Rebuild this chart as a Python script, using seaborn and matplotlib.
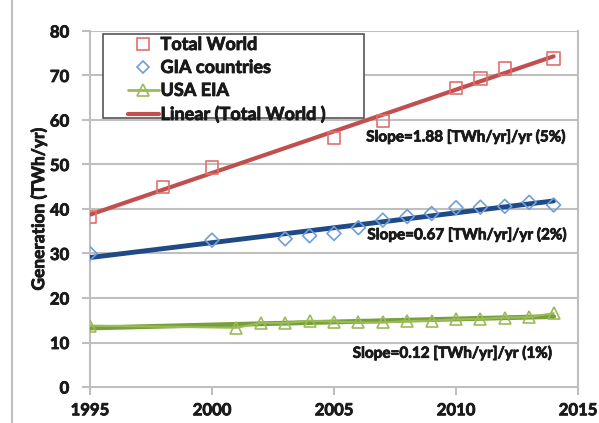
import matplotlib
matplotlib.use("Agg")
import matplotlib.pyplot as plt
import matplotlib.patheffects as pe
from matplotlib.lines import Line2D
from matplotlib.patches import Rectangle
import seaborn as sns
import pandas as pd

# ---- data ----
world_years = [1995, 1998, 2000, 2005, 2007, 2010, 2011, 2012, 2014]
world_vals = [38.2, 45.0, 49.3, 56.0, 59.8, 67.2, 69.3, 71.6, 73.8]

gia_years = [1995, 2000, 2003, 2004, 2005, 2006, 2007, 2008, 2009, 2010, 2011, 2012, 2013, 2014]
gia_vals = [30.0, 33.0, 33.3, 34.0, 34.5, 35.8, 37.5, 38.3, 39.0, 40.3, 40.4, 40.6, 41.5, 40.9]

usa_years = [1995, 2001, 2002, 2003, 2004, 2005, 2006, 2007, 2008, 2009, 2010, 2011, 2012, 2013, 2014]
usa_vals = [13.8, 13.3, 14.4, 14.4, 14.9, 14.7, 14.5, 14.5, 14.8, 14.9, 15.2, 15.3, 15.6, 15.7, 16.6]

series_labels = ["Total World", "GIA countries", "USA EIA", "Linear (Total World )"]
slope_texts = ["Slope=1.88 [TWh/yr]/yr (5%)",
               "Slope=0.67 [TWh/yr]/yr (2%)",
               "Slope=0.12 [TWh/yr]/yr (1%)"]
x_ticks = [1995, 2000, 2005, 2010, 2015]
y_ticks = [0, 10, 20, 30, 40, 50, 60, 70, 80]
y_label = "Generation (TWh/yr)"

world = pd.DataFrame({"year": world_years, "val": world_vals})
gia = pd.DataFrame({"year": gia_years, "val": gia_vals})
usa = pd.DataFrame({"year": usa_years, "val": usa_vals})

# ---- style ----
sns.set_theme(style="white")
plt.rcParams["font.family"] = ["Lato", "DejaVu Sans"]
plt.rcParams["font.weight"] = "bold"

RED_M = "#e0716d"
RED_L = "#c0504d"
BLUE_M = "#6f9edb"
BLUE_L = "#1f4a85"
GREEN_M = "#9bbb59"
GREEN_L = "#77a03a"
GRID = "#bfbfbf"
TXT = "#1a1a1a"
THICK = [pe.withStroke(linewidth=0.6, foreground=TXT)]

fig = plt.figure(figsize=(5.99, 4.23), dpi=100)
ax = fig.add_axes([90 / 599, 1 - 387 / 423, (578 - 90) / 599, (387 - 31) / 423])

# gridlines
for yv in y_ticks[1:]:
    ax.axhline(yv, color=GRID, lw=1.5, zorder=0)

# trend lines
sns.regplot(data=world, x="year", y="val", ax=ax, scatter=False, ci=None,
            line_kws=dict(color=RED_L, lw=3, zorder=3))
sns.regplot(data=gia, x="year", y="val", ax=ax, scatter=False, ci=None,
            line_kws=dict(color=BLUE_L, lw=3.5, zorder=3))
sns.regplot(data=usa, x="year", y="val", ax=ax, scatter=False, ci=None,
            line_kws=dict(color=GREEN_L, lw=3.5, zorder=3))

# USA EIA series line + markers
sns.lineplot(data=usa, x="year", y="val", ax=ax, color=GREEN_M, lw=1.5,
             marker="^", markersize=9, markerfacecolor="none",
             markeredgecolor=GREEN_M, markeredgewidth=1.2, zorder=4)

# markers
sns.scatterplot(data=world, x="year", y="val", ax=ax, marker="s", s=80,
                facecolor="none", edgecolor=RED_M, linewidth=1.2, zorder=5)
sns.scatterplot(data=gia, x="year", y="val", ax=ax, marker="D", s=50,
                facecolor="none", edgecolor=BLUE_M, linewidth=1.2, zorder=5)

# axes
ax.set_xlim(1995, 2015)
ax.set_ylim(0, 80)
ax.set_xticks(x_ticks)
ax.set_yticks(y_ticks)
ax.set_xlabel("")
ylab = ax.set_ylabel(y_label, fontsize=12.5, fontweight="bold", labelpad=2, color=TXT)
ylab.set_path_effects(THICK)
for s in ax.spines.values():
    s.set_color(GRID)
    s.set_linewidth(1.5)
ax.spines["top"].set_visible(False)
ax.tick_params(axis="both", which="both", direction="out", length=6, width=1.5,
               color=GRID, labelsize=12)
ax.tick_params(axis="y", pad=9, labelcolor=TXT)
ax.tick_params(axis="x", pad=5, labelcolor=TXT)
ax.tick_params(left=True, bottom=True)
for lbl in ax.get_xticklabels() + ax.get_yticklabels():
    lbl.set_fontweight("bold")
    lbl.set_path_effects(THICK)

# slope annotations
slope_pos = [(2010.4, 56.2), (2010.45, 34.2), (2009.85, 7.6)]
for t, (xx, yy) in zip(slope_texts, slope_pos):
    ax.text(xx, yy, t, ha="center", va="center", fontsize=11,
            fontweight="bold", color=TXT, zorder=6, path_effects=THICK)

# legend box (Excel style) and entries
box = Rectangle(((103 - 90) / 488, (387 - 118) / 356), (364 - 103) / 488, (118 - 34) / 356,
                transform=ax.transAxes, facecolor="white", edgecolor="#555555",
                lw=1.2, zorder=9)
ax.add_patch(box)
handles = [
    Line2D([], [], ls="none", marker="s", ms=8, mfc="none", mec=RED_M, mew=1.2),
    Line2D([], [], ls="none", marker="D", ms=6.5, mfc="none", mec=BLUE_M, mew=1.2),
    Line2D([], [], color=GREEN_M, lw=2, marker="^", ms=9, mfc="none", mec=GREEN_M, mew=1.2),
    Line2D([], [], color=RED_L, lw=3),
]
leg = ax.legend(handles, series_labels, loc="upper left",
                bbox_to_anchor=((128 - 90) / 488, (387 - 36) / 356), borderaxespad=0,
                frameon=False, prop=dict(size=13, weight="bold"), handlelength=1.7,
                handletextpad=0.1, labelspacing=0.33, borderpad=0)
for t in leg.get_texts():
    t.set_color(TXT)
    t.set_fontweight("bold")
    t.set_path_effects(THICK)
leg.set_zorder(10)

# outer chart border at left
fig.add_artist(Line2D([12 / 599, 12 / 599], [0, 1], color=GRID, lw=1.5))

fig.savefig("out.png", dpi=100, facecolor="white")
